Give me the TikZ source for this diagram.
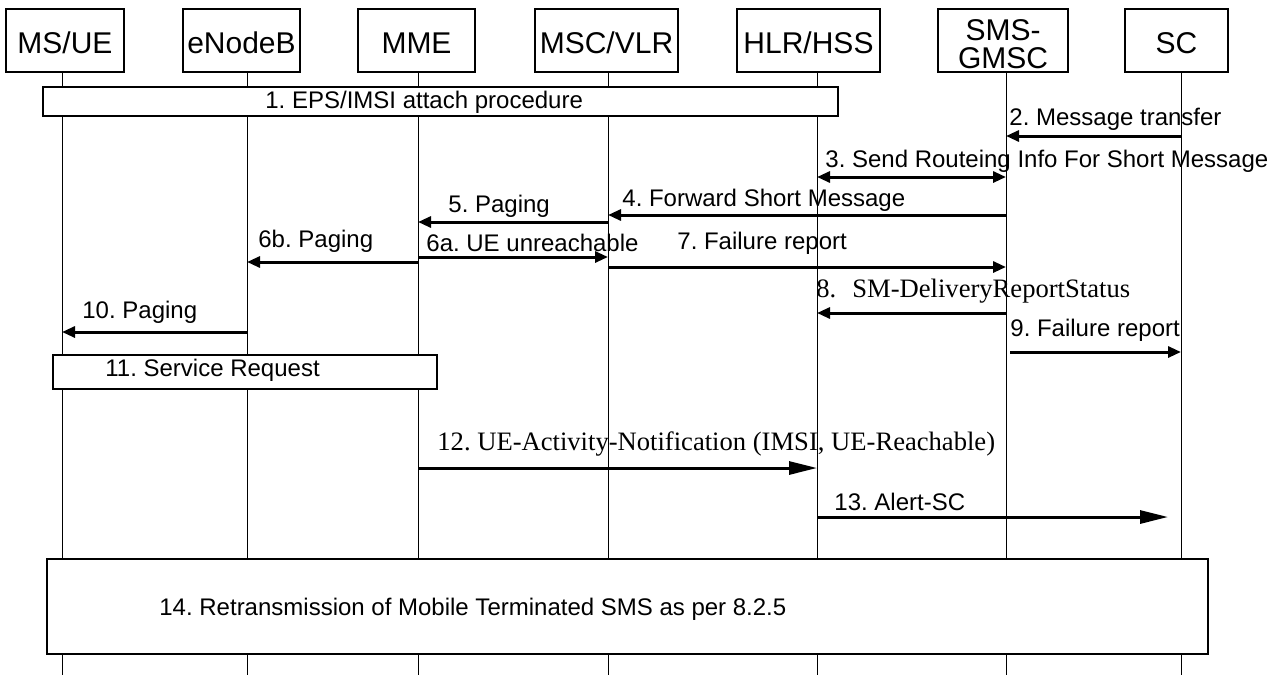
\documentclass[tikz,border=0pt]{standalone}
\usepackage{fontspec}
\setmainfont{Liberation Sans}
\newfontfamily\serifmsg{Liberation Serif}
\usetikzlibrary{arrows.meta,positioning}
\frenchspacing

\tikzset{
    hdr/.style={draw, line width=0.6pt, minimum height=31.5pt, inner sep=0pt,
        align=center, font=\fontsize{15}{14}\selectfont},
    hdrone/.style={hdr, text height=14pt, text depth=1.5pt},
    life/.style={line width=0.5pt},
    procbox/.style={draw, fill=white, line width=0.6pt},
    msg/.style={line width=1.5pt, -{Triangle[length=6.5pt, width=5.5pt]}},
    msgboth/.style={line width=1.5pt, {Triangle[length=6.5pt, width=5.5pt]}-{Triangle[length=6.5pt, width=5.5pt]}},
    bigmsg/.style={line width=1.5pt, -{Triangle[length=14pt, width=6.5pt]}},
    lbl/.style={anchor=base west, inner sep=0pt, font=\fontsize{12}{14}\selectfont},
    slbl/.style={lbl, font=\fontsize{13.3}{15}\serifmsg},
}

\begin{document}
\begin{tikzpicture}[x=0.5pt, y=-0.5pt]
    \useasboundingbox (0, 0) rectangle (1278, 675);

    \node[hdrone, minimum width=59pt]   (hUE)   at (65, 40.5)     {MS/UE};
    \node[hdrone, minimum width=58.5pt] (hENB)  at (241.5, 40.5)  {eNodeB};
    \node[hdrone, minimum width=58.5pt] (hMME)  at (416.5, 40.5)  {MME};
    \node[hdrone, minimum width=71.5pt] (hMSC)  at (606.5, 40.5)  {MSC/VLR};
    \node[hdrone, minimum width=71.5pt] (hHLR)  at (808.5, 40.5)  {HLR/HSS};
    \draw[line width=0.6pt] (938, 9) rectangle (1068, 72);
    \node[align=center, inner sep=0pt, font=\fontsize{15}{14}\selectfont] (hGMSC) at (1003, 44) {SMS-\\GMSC};
    \node[hdrone, minimum width=51.5pt] (hSC)   at (1176.5, 40.5) {SC};

    \coordinate (bottom) at (0, 675);
    \foreach \n/\x in {ue/62, enb/247, mme/418, msc/608, hlr/817, gmsc/1006, sc/1181}
    {
        \coordinate (\n) at (\x, 72);
        \draw[life] (\n) -- (\n |- bottom);
    }

    \foreach \r/\y in {m2/136, m3/177, m4/215, m5/222, m6a/257, m6b/262, m7/267,
        m8/313, m9/352, m10/332, m12/468, m13/517}
        \coordinate (\r) at (0, \y);

    \draw[procbox] (43, 87) rectangle (838, 116);
    \node[lbl] (t1) at (265, 108) {1. EPS/IMSI attach procedure};

    \draw[msg] (sc |- m2) -- (gmsc |- m2);
    \node[lbl] (t2) at (1009, 125) {2. Message transfer};

    \draw[msgboth] (hlr |- m3) -- (gmsc |- m3);
    \node[lbl] (t3) at (825, 167) {3. Send Routeing Info For Short Message};

    \draw[msg] (gmsc |- m4) -- (msc |- m4);
    \node[lbl] (t4) at (622, 206) {4. Forward Short Message};

    \draw[msg] (msc |- m5) -- (mme |- m5);
    \node[lbl] (t5) at (448, 212) {5. Paging};

    \draw[msg] (mme |- m6b) -- (enb |- m6b);
    \node[lbl] (t6b) at (258, 247) {6b. Paging};

    \draw[msg] (mme |- m6a) -- (msc |- m6a);
    \node[lbl] (t6a) at (426, 251) {6a. UE unreachable};

    \draw[msg] (msc |- m7) -- (gmsc |- m7);
    \node[lbl] (t7) at (677, 249) {7. Failure report};

    \draw[msg] (gmsc |- m8) -- (hlr |- m8);
    \node[slbl] (t8) at (816, 297) {8.\hspace{8pt}SM-DeliveryReportStatus};

    \draw[msg] ([xshift=2pt]gmsc |- m9) -- (sc |- m9);
    \node[lbl] (t9) at (1010, 336) {9. Failure report};

    \draw[msg] (enb |- m10) -- (ue |- m10);
    \node[lbl] (t10) at (82, 318) {10. Paging};

    \draw[procbox] (53, 355) rectangle (437, 389);
    \node[lbl] (t11) at (105, 376) {11. Service Request};

    \draw[bigmsg] (mme |- m12) -- (hlr |- m12);
    \node[slbl] (t12) at (437, 450) {12. UE-Activity-Notification (IMSI, UE-Reachable)};

    \draw[bigmsg] (hlr |- m13) -- ([xshift=-6.5pt]sc |- m13);
    \node[lbl] (t13) at (834, 510) {13. Alert-SC};

    \draw[procbox] (47, 559) rectangle (1208, 654);
    \node[lbl] (t14) at (159, 615) {14. Retransmission of Mobile Terminated SMS as per 8.2.5};
\end{tikzpicture}
\end{document}
